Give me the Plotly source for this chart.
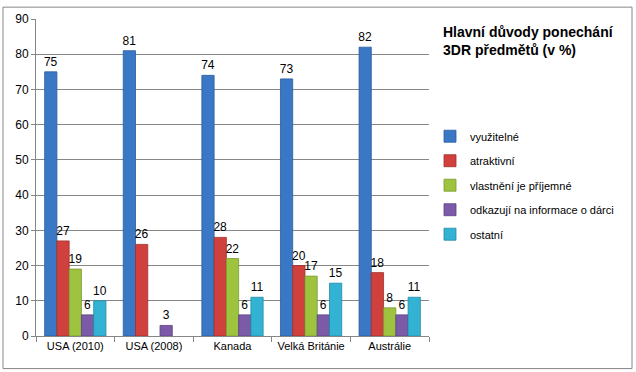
import plotly.graph_objects as go

categories = ["USA (2010)", "USA (2008)", "Kanada", "Velká Británie", "Austrálie"]
series_names = ["využitelné", "atraktivní", "vlastnění je příjemné",
                "odkazují na informace o dárci", "ostatní"]
vyuzitelne = [75, 81, 74, 73, 82]
atraktivni = [27, 26, 28, 20, 18]
vlastneni = [19, None, 22, 17, 8]
odkazuji = [6, 3, 6, 6, 6]
ostatni = [10, None, 11, 15, 11]
series_values = [vyuzitelne, atraktivni, vlastneni, odkazuji, ostatni]
colors = ["#3A78C6", "#D0413D", "#9DC33F", "#7B5BA8", "#33B3D3"]
line_colors = ["#2A5C9E", "#A02E2B", "#7A9A2E", "#5C4382", "#2389A3"]
y_ticks = [0, 10, 20, 30, 40, 50, 60, 70, 80, 90]

W, H = 636, 372
L, R, T, B = 36, 429, 15, 336
pw, ph = R - L, B - T

def px_x(x):
    return (x - L) / pw

def px_y(y):
    return (B - y) / ph

fig = go.Figure()
for i, (name, vals) in enumerate(zip(series_names, series_values)):
    fig.add_trace(go.Bar(
        x=categories, y=vals, name=name,
        marker=dict(color=colors[i], line=dict(color=line_colors[i], width=0.8)),
        text=[("" if v is None else str(v)) for v in vals],
        textposition="outside", cliponaxis=False, constraintext="none",
        textfont=dict(size=12, color="#000000", family="Liberation Sans"),
        legendgroup=f"g{i}",
    ))

fig.update_layout(
    width=W, height=H,
    margin=dict(l=L, r=W - R, t=T, b=H - B),
    paper_bgcolor="white", plot_bgcolor="white",
    barmode="group", bargap=0.22, bargroupgap=0,
    font=dict(family="Liberation Sans", size=11, color="#000000"),
    showlegend=True,
    legend=dict(x=px_x(430), y=px_y(119), xanchor="left", yanchor="top",
                font=dict(size=11, family="Liberation Sans"),
                traceorder="grouped", tracegroupgap=5.5,
                itemwidth=30, bgcolor="rgba(0,0,0,0)"),
)
fig.update_xaxes(
    showline=True, linecolor="#868686", linewidth=1,
    ticks="outside", tickson="boundaries", ticklen=5, tickcolor="#868686",
    tickfont=dict(size=11, family="Liberation Sans"),
    showgrid=False,
)
fig.update_yaxes(
    range=[0, 90], tickvals=y_ticks,
    showline=True, linecolor="#868686", linewidth=1,
    ticks="outside", ticklen=4, tickcolor="#868686",
    showgrid=True, gridcolor="#868686", gridwidth=1,
    tickfont=dict(size=12, family="Liberation Sans"),
    zeroline=False,
)
fig.add_annotation(
    xref="paper", yref="paper", x=px_x(441), y=px_y(18),
    xanchor="left", yanchor="top", align="left", showarrow=False,
    text="<b>Hlavní důvody ponechání<br>3DR předmětů (v %)</b>",
    font=dict(size=14, family="Liberation Sans", color="#000000"),
)
fig.add_shape(
    type="rect", xref="paper", yref="paper",
    x0=px_x(3), x1=px_x(632), y0=px_y(369), y1=px_y(3),
    line=dict(color="#868686", width=1), layer="above",
)
fig.write_html("out.html", config={"displayModeBar": False},
               post_script="document.body.style.margin='0';document.body.style.overflow='hidden';")
